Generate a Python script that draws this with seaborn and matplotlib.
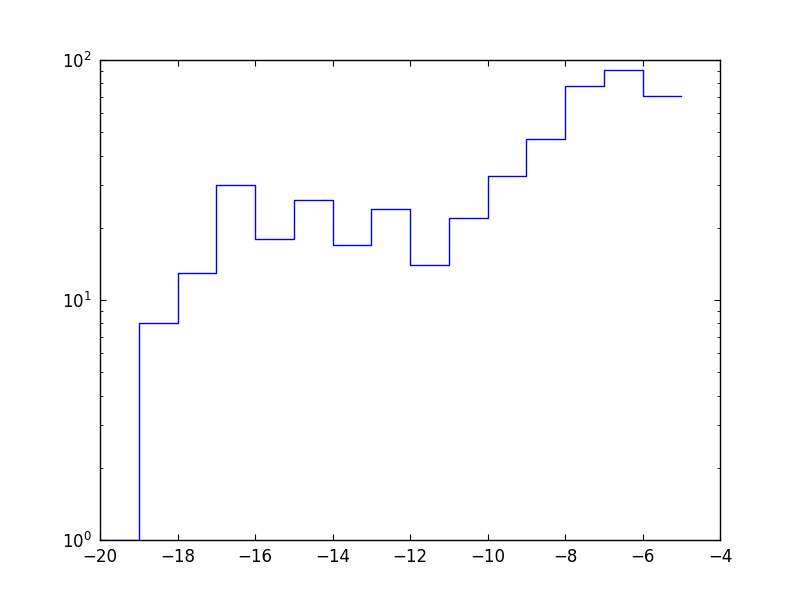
import matplotlib
matplotlib.use("Agg")
import matplotlib.pyplot as plt
import seaborn as sns
import pandas as pd
from matplotlib.ticker import LogLocator, MultipleLocator, NullLocator

bin_edges = [-20, -19, -18, -17, -16, -15, -14, -13, -12, -11, -10, -9, -8, -7, -6, -5]
counts = [1, 8, 13, 30, 18, 26, 17, 24, 14, 22, 33, 47, 78, 91, 71]

sns.set_style("ticks")
plt.rcParams.update({
    "font.family": ["DejaVu Sans"],
    "font.size": 12,
    "xtick.direction": "in",
    "ytick.direction": "in",
    "xtick.top": True,
    "ytick.right": True,
    "xtick.major.size": 4,
    "ytick.major.size": 4,
    "xtick.minor.size": 2,
    "ytick.minor.size": 2,
    "xtick.major.pad": 6,
    "ytick.major.pad": 6,
    "axes.linewidth": 1.0,
    "axes.edgecolor": "black",
    "xtick.color": "black",
    "ytick.color": "black",
    "xtick.labelsize": 12,
    "ytick.labelsize": 12,
})

df = pd.DataFrame({"x": bin_edges, "y": counts + [counts[-1]]})

fig = plt.figure(figsize=(8, 6), dpi=100)
ax = fig.add_axes([0.125, 0.1, 0.775, 0.8])
sns.lineplot(data=df, x="x", y="y", ax=ax, drawstyle="steps-post",
             color="blue", linewidth=1.0, estimator=None, sort=False)
ax.set_yscale("log")
ax.set_xlim(-20, -4)
ax.set_ylim(1, 100)
ax.xaxis.set_major_locator(MultipleLocator(2))
ax.xaxis.set_minor_locator(NullLocator())
ax.yaxis.set_major_locator(LogLocator(base=10))
ax.yaxis.set_minor_locator(LogLocator(base=10, subs=range(2, 10)))
ax.set_xlabel("")
ax.set_ylabel("")
for s in ax.spines.values():
    s.set_visible(True)
ax.tick_params(which="both", top=True, right=True, direction="in")

fig.savefig("out.png", dpi=100)
